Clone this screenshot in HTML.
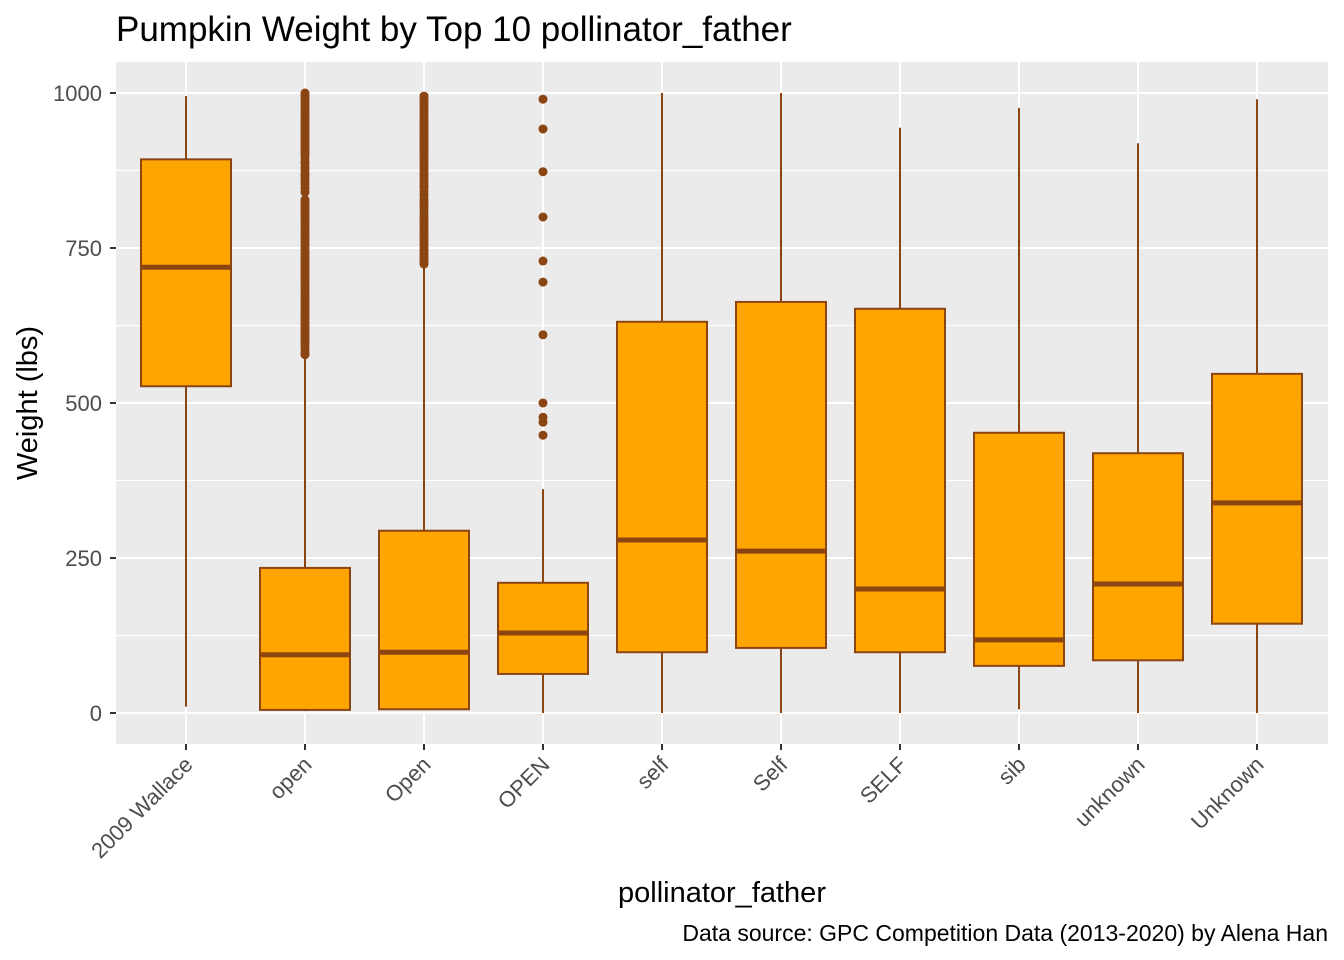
<!DOCTYPE html>
<html><head><meta charset="utf-8"><style>
body{margin:0;background:#fff;}
svg{display:block;font-family:"Liberation Sans",Arial,sans-serif;}
</style></head><body>
<svg id="chart" width="1344" height="960">
<text x="116" y="41" font-size="35" fill="#000">Pumpkin Weight by Top 10 pollinator_father</text>
<rect x="116" y="62" width="1212" height="682" fill="#EBEBEB"/>
<g id="grid"></g><g id="yaxis"></g><g id="boxes"></g><g id="xaxis"></g>
<text transform="translate(37,403) rotate(-90)" text-anchor="middle" font-size="29" fill="#000">Weight (lbs)</text>
<text x="722" y="902" text-anchor="middle" font-size="29" fill="#000">pollinator_father</text>
<text x="1328" y="941" text-anchor="end" font-size="23" fill="#000">Data source: GPC Competition Data (2013-2020) by Alena Han</text>
</svg>
<script>
const categories=["2009 Wallace","open","Open","OPEN","self","Self","SELF","sib","unknown","Unknown"];
const whiskerLow=[10,3,4,0,0,0,0,6,0,0];
const q1=[527,5,6,63,98,105,98,76,85,144];
const median=[719,94,98,129,279,261,200,118,208,339];
const q3=[893,234,294,210,631,663,652,452,419,547];
const whiskerHigh=[995,577,723,361,1000,1000,944,976,919,990];
const outliersOpenLower=[578,582,588,592,596,600,604,608,612,616,620,624,628,632,636,640,644,648,652,656,660,664,668,672,676,680,684,688,692,696,700,704,708,712,716,720,724,728,732,736,740,744,748,752,756,760,764,768,772,776,780,784,788,792,796,800,804,808,812,816,820,824,828,840,846,852,856,860,866,870,876,880,886,890,896,900,904,908,912,916,920,924,928,932,936,940,944,948,952,956,960,964,968,972,976,980,984,988,992,996,1000];
const outliersOpenCap=[724,728,732,736,740,744,748,752,756,760,764,768,772,776,780,784,788,792,796,800,805,810,815,820,825,830,836,842,848,852,856,860,866,870,876,880,884,888,892,896,900,904,908,912,916,920,924,928,932,936,940,944,948,952,956,960,965,970,975,980,984,988,992,995];
const outliersOPEN=[990,942,873,800,729,695,610,500,477,469,448];
const outliers=[[],outliersOpenLower,outliersOpenCap,outliersOPEN,[],[],[],[],[],[]];
const yTicks=[0,250,500,750,1000];
const NS="http://www.w3.org/2000/svg";
const y=v=>713-v*0.62;
const x=i=>186+i*119;
function mk(parent,tag,attrs){const e=document.createElementNS(NS,tag);for(const k in attrs)e.setAttribute(k,attrs[k]);document.getElementById(parent).appendChild(e);return e;}
for(let k=0;k<yTicks.length-1;k++){
  const m=(yTicks[k]+yTicks[k+1])/2;
  const g=mk("grid","line",{x1:116,x2:1328,y1:y(m),y2:y(m),stroke:"#fff","stroke-width":1});
  
  
}
yTicks.forEach(t=>{
  const g=mk("grid","line",{x1:116,x2:1328,y1:y(t),y2:y(t),stroke:"#fff","stroke-width":2});
  
  
  const tk=mk("yaxis","line",{x1:110,x2:116,y1:y(t),y2:y(t),stroke:"#333","stroke-width":2});
  
  
  const lb=mk("yaxis","text",{x:102,y:y(t)+8,"text-anchor":"end","font-size":22,fill:"#4D4D4D"});
  lb.textContent=t;
  
  
});
categories.forEach((c,i)=>{
  const cx=x(i);
  const vg=mk("grid","line",{x1:cx,x2:cx,y1:62,y2:744,stroke:"#fff","stroke-width":2});
  
  
  const w1=mk("boxes","line",{x1:cx,x2:cx,y1:y(whiskerLow[i]),y2:y(q1[i]),stroke:"#8B4513","stroke-width":2});
  
  
  const w2=mk("boxes","line",{x1:cx,x2:cx,y1:y(q3[i]),y2:y(whiskerHigh[i]),stroke:"#8B4513","stroke-width":2});
  
  
  const b=mk("boxes","rect",{x:cx-45,y:y(q3[i]),width:90,height:y(q1[i])-y(q3[i]),fill:"#FFA500",stroke:"#8B4513","stroke-width":2});
  
  
  const md=mk("boxes","line",{x1:cx-45,x2:cx+45,y1:y(median[i]),y2:y(median[i]),stroke:"#8B4513","stroke-width":5});
  
  
  outliers[i].forEach(v=>{
    const p=mk("boxes","circle",{cx:cx,cy:y(v),r:4.5,fill:"#8B4513"});
    
    
  });
  const tk=mk("xaxis","line",{x1:cx,x2:cx,y1:744,y2:750,stroke:"#333","stroke-width":2});
  
  
  const lb=mk("xaxis","text",{transform:`translate(${cx+8},${766}) rotate(-45)`,"text-anchor":"end","font-size":22,fill:"#4D4D4D"});
  lb.textContent=c;
  
  
});
</script>
</body></html>
